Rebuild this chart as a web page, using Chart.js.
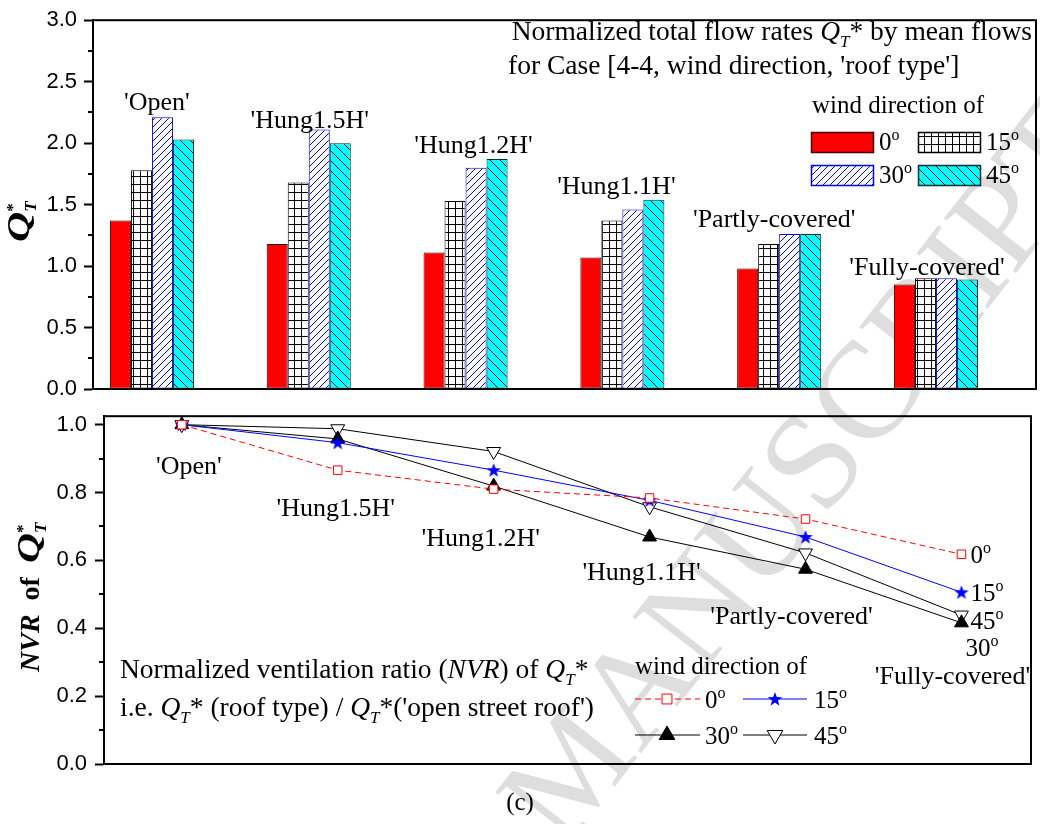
<!DOCTYPE html>
<html>
<head>
<meta charset="utf-8">
<script src="https://cdn.jsdelivr.net/npm/chart.js@4.4.1/dist/chart.umd.min.js"></script>
<style>
  html, body { margin: 0; padding: 0; background: #fff; }
  #wrap { position: relative; width: 1040px; height: 824px; overflow: hidden; }
  canvas { position: absolute; left: 0; }
  #bg { top: 0; }
  #top-chart { top: 0; }
  #bottom-chart { top: 395px; }
  #caption { position: absolute; left: 0; top: 788px; width: 1040px; text-align: center;
             font: 25px 'Liberation Serif', 'Times New Roman', serif; line-height: 28px; }
</style>
</head>
<body>
<div id="wrap">
  <canvas id="bg" width="1040" height="824"></canvas>
  <canvas id="top-chart" width="1040" height="420"></canvas>
  <canvas id="bottom-chart" width="1040" height="400"></canvas>
  <div id="caption">(c)</div>
</div>
<script>
// Datos
const roofTypes = ["'Open'", "'Hung1.5H'", "'Hung1.2H'", "'Hung1.1H'", "'Partly-covered'", "'Fully-covered'"];
const windDirs = ['0', '15', '30', '45'];

// Q_T* (gráfico de barras)
const qt0  = [1.37, 1.18, 1.11, 1.07, 0.98, 0.85];
const qt15 = [1.78, 1.68, 1.53, 1.37, 1.18, 0.90];
const qt30 = [2.21, 2.11, 1.80, 1.46, 1.26, 0.90];
const qt45 = [2.03, 2.00, 1.87, 1.54, 1.26, 0.89];

// NVR de Q_T* (gráfico de líneas)
const nvr0  = [1.00, 0.866, 0.810, 0.784, 0.722, 0.618];
const nvr15 = [1.00, 0.947, 0.866, 0.777, 0.669, 0.506];
const nvr30 = [1.00, 0.958, 0.819, 0.669, 0.574, 0.416];
const nvr45 = [1.00, 0.988, 0.921, 0.758, 0.622, 0.439];

// Marcas del eje Y
const qtTicks = [0, 0.5, 1.0, 1.5, 2.0, 2.5, 3.0];
const nvrTicks = [0, 0.2, 0.4, 0.6, 0.8, 1.0];

const SERIF = "'Liberation Serif', 'Times New Roman', serif";
const SANS = "'Liberation Sans', Arial, sans-serif";
const TXT = 25;      // leyendas y grados
const CAT = 26;      // nombres de techo
const NOTE = 27.5;   // textos explicativos
const BOTTOM_TOP = 395; // posición del segundo lienzo

// Ajustes de posición de las etiquetas (px)
const topLabelNudge = [[5, -7], [1, -2], [8, -6], [-6, -6], [-5, -7], [-9, -3]];
const bottomLabelNudge = [[7, 49], [-2, 46], [-13, 57], [-8, 43], [-14, 55], [-9, 61]];
const endLabelNudge = [[9, 9], [9, 9], [4, 33], [9, 14]];

// Texto enriquecido: cursiva, negrita, subíndice, superíndice
function fontStr(p, size) {
  return (p.i ? 'italic ' : '') + (p.b ? 'bold ' : '') + size + 'px ' + SERIF;
}
function drawRich(ctx, parts, x, y, size, align) {
  const segs = [];
  let cx = 0, prevStart = 0;
  for (const p of parts) {
    const base = size * (p.k || 1);
    const s = (p.sub || p.sup) ? Math.round(size * 0.62) : base;
    const st = p.st || 1;
    ctx.font = fontStr(p, s);
    const w = ctx.measureText(p.t).width * st;
    const sx = p.stack ? prevStart : cx;
    segs.push({ p, s, sx, st });
    cx = p.stack ? Math.max(cx, sx + w) : sx + w;
    prevStart = sx;
  }
  const ox = align === 'right' ? x - cx : align === 'center' ? x - cx / 2 : x;
  ctx.textAlign = 'left';
  ctx.textBaseline = 'alphabetic';
  for (const sg of segs) {
    ctx.font = fontStr(sg.p, sg.s);
    const dy = sg.p.sub ? size * 0.24 : sg.p.sup ? -size * 0.4 : 0;
    if (sg.st !== 1) {
      ctx.save();
      ctx.translate(ox + sg.sx, y + dy);
      ctx.scale(sg.st, 1);
      ctx.fillText(sg.p.t, 0, 0);
      ctx.restore();
    } else {
      ctx.fillText(sg.p.t, ox + sg.sx, y + dy);
    }
  }
}
const deg = (v) => [{ t: v }, { t: 'o', sup: true }];

// Patrones de relleno
function makePattern(ctx, w, h, bg, color, lines) {
  const tile = document.createElement('canvas');
  tile.width = w; tile.height = h;
  const t = tile.getContext('2d');
  t.fillStyle = bg;
  t.fillRect(0, 0, w, h);
  t.strokeStyle = color;
  t.lineWidth = 1;
  lines.forEach(l => { t.beginPath(); t.moveTo(l[0], l[1]); t.lineTo(l[2], l[3]); t.stroke(); });
  return ctx.createPattern(tile, 'repeat');
}

const topCtx = document.getElementById('top-chart').getContext('2d');
const gridPattern = makePattern(topCtx, 7, 8, '#ffffff', '#000000', [[0.5, 0, 0.5, 8], [0, 0.5, 7, 0.5]]);
const bluePattern = makePattern(topCtx, 7, 7, '#ffffff', '#0000ff', [[0, 7, 7, 0], [-7, 7, 0, 0], [7, 7, 14, 0]]);
const cyanPattern = makePattern(topCtx, 10, 10, '#00ffff', '#000000', [[0, 0, 10, 10], [-10, 0, 0, 10], [10, 0, 20, 10]]);

const barFills = ['#ff0000', gridPattern, bluePattern, cyanPattern];
const barEdges = ['#4a0000', '#000000', '#0000ff', '#003030'];

// Estrella rellena para la serie de 15°
const starImg = document.createElement('canvas');
starImg.width = 16; starImg.height = 16;
(function () {
  const s = starImg.getContext('2d');
  s.fillStyle = '#0000ff';
  s.beginPath();
  for (let k = 0; k < 10; k++) {
    const r = k % 2 === 0 ? 7.6 : 3.1;
    const a = -Math.PI / 2 + k * Math.PI / 5;
    s.lineTo(8 + r * Math.cos(a), 8.5 + r * Math.sin(a));
  }
  s.closePath();
  s.fill();
})();

// Marca de agua
(function () {
  const ctx = document.getElementById('bg').getContext('2d');
  ctx.save();
  ctx.translate(1112, 150);
  ctx.rotate(-52 * Math.PI / 180);
  ctx.font = '138px ' + SERIF;
  ctx.fillStyle = '#dedede';
  ctx.textAlign = 'right';
  ctx.fillText('ACCEPTED MANUSCRIPT', 0, 0);
  ctx.restore();
})();

function drawFrame(ctx, a) {
  ctx.strokeStyle = '#000';
  ctx.lineWidth = 2;
  ctx.strokeRect(a.left, a.top, a.right - a.left, a.bottom - a.top);
}
function drawMinorTicks(ctx, a, yScale, values) {
  ctx.strokeStyle = '#000';
  ctx.lineWidth = 2;
  values.forEach(v => {
    const py = Math.round(yScale.getPixelForValue(v));
    ctx.beginPath();
    ctx.moveTo(a.left - 5, py);
    ctx.lineTo(a.left, py);
    ctx.stroke();
  });
}

const qtSeries = [qt0, qt15, qt30, qt45];
const nvrSeries = [nvr0, nvr15, nvr30, nvr45];

// Decoración del gráfico de barras
const topDecor = {
  id: 'topDecor',
  afterDraw(chart) {
    const { ctx, chartArea: a, scales: { x, y } } = chart;
    ctx.save();
    drawFrame(ctx, a);
    const minor = [];
    for (let k = 0; k < qtTicks.length - 1; k++) minor.push((qtTicks[k] + qtTicks[k + 1]) / 2);
    drawMinorTicks(ctx, a, y, minor);

    ctx.fillStyle = '#000';
    roofTypes.forEach((name, i) => {
      const top = Math.max(...qtSeries.map(s => s[i]));
      const [dx, dy] = topLabelNudge[i];
      drawRich(ctx, [{ t: name }], x.getPixelForValue(i) + dx, y.getPixelForValue(top) + dy, CAT, 'center');
    });

    // Título dentro del gráfico
    drawRich(ctx, [{ t: 'Normalized total flow rates ' }, { t: 'Q', i: true }, { t: 'T', i: true, sub: true },
      { t: '* by mean flows' }], a.right - 4, 40, NOTE, 'right');
    drawRich(ctx, [{ t: "for Case [4-4, wind direction, 'roof type']" }], 508, 74, NOTE, 'left');

    // Leyenda
    drawRich(ctx, [{ t: 'wind direction of' }], 812, 113, TXT, 'left');
    const cols = [811, 918], rows = [132, 165];
    windDirs.forEach((d, k) => {
      const bx = cols[k % 2], by = rows[Math.floor(k / 2)];
      ctx.fillStyle = barFills[k];
      ctx.fillRect(bx, by, 62, 20);
      ctx.strokeStyle = barEdges[k];
      ctx.lineWidth = 1.5;
      ctx.strokeRect(bx + 0.5, by + 0.5, 62, 20);
      ctx.fillStyle = '#000';
      drawRich(ctx, deg(d), bx + 68, by + 18, TXT, 'left');
    });

    // Título del eje Y
    ctx.translate(29, 242);
    ctx.rotate(-Math.PI / 2);
    drawRich(ctx, [{ t: 'Q', i: true, b: true, k: 1.15, st: 1.3 }, { t: 'T', i: true, b: true, sub: true },
      { t: '*', b: true, sup: true, stack: true }], 0, 0, 28, 'left');
    ctx.restore();
  }
};

// Decoración del gráfico de líneas
const pointStyles = [
  { pointStyle: 'rect', radius: 6, rotation: 0, fill: '#ffffff', stroke: '#ff0000', dash: [6, 4] },
  { pointStyle: starImg, radius: 8, rotation: 0, fill: '#0000ff', stroke: '#0000ff', dash: [] },
  { pointStyle: 'triangle', radius: 8, rotation: 0, fill: '#000000', stroke: '#000000', dash: [] },
  { pointStyle: 'triangle', radius: 8, rotation: 180, fill: '#ffffff', stroke: '#000000', dash: [] }
];

const bottomDecor = {
  id: 'bottomDecor',
  afterDraw(chart) {
    const { ctx, chartArea: a, scales: { x, y } } = chart;
    ctx.save();
    drawFrame(ctx, a);
    const minor = [];
    for (let k = 0; k < nvrTicks.length - 1; k++) minor.push((nvrTicks[k] + nvrTicks[k + 1]) / 2);
    drawMinorTicks(ctx, a, y, minor);

    ctx.fillStyle = '#000';
    roofTypes.forEach((name, i) => {
      const low = Math.min(...nvrSeries.map(s => s[i]));
      const [dx, dy] = bottomLabelNudge[i];
      drawRich(ctx, [{ t: name }], x.getPixelForValue(i) + dx, y.getPixelForValue(low) + dy, CAT, 'center');
    });

    // Etiquetas al final de cada serie
    nvrSeries.forEach((s, k) => {
      const last = s.length - 1;
      const [dx, dy] = endLabelNudge[k];
      drawRich(ctx, deg(windDirs[k]), x.getPixelForValue(last) + dx, y.getPixelForValue(s[last]) + dy, TXT, 'left');
    });

    // Texto explicativo
    const off = BOTTOM_TOP;
    drawRich(ctx, [{ t: 'Normalized ventilation ratio (' }, { t: 'NVR', i: true }, { t: ') of ' },
      { t: 'Q', i: true }, { t: 'T', i: true, sub: true }, { t: '*' }], 120, 678 - off, NOTE, 'left');
    drawRich(ctx, [{ t: 'i.e. ' }, { t: 'Q', i: true }, { t: 'T', i: true, sub: true }, { t: '* (roof type) / ' },
      { t: 'Q', i: true }, { t: 'T', i: true, sub: true }, { t: "*('open street roof')" }], 120, 716 - off, NOTE, 'left');

    // Leyenda
    drawRich(ctx, [{ t: 'wind direction of' }], 635, 674 - off, TXT, 'left');
    const cols = [[635, 700, 667, 705], [743, 807, 775, 814]];
    const rows = [699 - off, 735 - off];
    windDirs.forEach((d, k) => {
      const c = cols[k % 2], cy = rows[Math.floor(k / 2)];
      const ps = pointStyles[k];
      ctx.strokeStyle = ps.stroke;
      ctx.lineWidth = 1;
      ctx.setLineDash(ps.dash);
      ctx.beginPath();
      ctx.moveTo(c[0], cy);
      ctx.lineTo(c[1], cy);
      ctx.stroke();
      ctx.setLineDash([]);
      ctx.fillStyle = ps.fill;
      ctx.strokeStyle = ps.stroke;
      ctx.lineWidth = 1;
      Chart.helpers.drawPoint(ctx, { pointStyle: ps.pointStyle, radius: ps.radius + 1, rotation: ps.rotation, borderWidth: 1 }, c[2], cy);
      ctx.fillStyle = '#000';
      drawRich(ctx, deg(d), c[3], cy + 9, TXT, 'left');
    });

    // Título del eje Y
    ctx.translate(39, 672 - off);
    ctx.rotate(-Math.PI / 2);
    drawRich(ctx, [{ t: 'NVR', i: true, b: true }, { t: '\u2002of\u2002', b: true },
      { t: 'Q', i: true, b: true, k: 1.1, st: 1.35 },
      { t: 'T', i: true, b: true, sub: true }, { t: '*', b: true, sup: true, stack: true }], 0, 0, 28, 'left');
    ctx.restore();
  }
};

function yAxis(ticks, width, padding) {
  return {
    afterBuildTicks: s => { s.ticks = ticks.map(v => ({ value: v })); },
    afterFit: s => { s.width = width; },
    ticks: { color: '#000', font: { family: SANS, size: 22 }, padding: padding, callback: v => Number(v).toFixed(1) },
    grid: { drawOnChartArea: false, drawTicks: true, tickLength: 9, tickWidth: 2, tickColor: '#000' },
    border: { display: true, width: 2, color: '#000' }
  };
}
// Eje X oculto con una marca por tipo de techo
const xAxis = (min, max) => ({
  type: 'linear', display: false, offset: false, min, max,
  afterBuildTicks: s => { s.ticks = roofTypes.map((_, i) => ({ value: i })); }
});

// Gráfico de barras: Q_T*
new Chart(topCtx, {
  type: 'bar',
  data: {
    datasets: qtSeries.map((s, k) => ({
      label: windDirs[k],
      data: s.map((v, i) => ({ x: i, y: v })),
      backgroundColor: barFills[k],
      borderColor: barEdges[k],
      borderWidth: 1,
      borderSkipped: false,
      barPercentage: 1,
      categoryPercentage: 0.536
    }))
  },
  options: {
    responsive: false,
    animation: false,
    layout: { padding: { left: 0, right: 4, top: 14, bottom: 31 } },
    plugins: { legend: { display: false }, tooltip: { enabled: false } },
    scales: {
      x: xAxis(-0.376, 5.638),
      y: Object.assign({ min: 0, max: 3 }, yAxis(qtTicks, 93, 7))
    }
  },
  plugins: [topDecor]
});

// Gráfico de líneas: NVR de Q_T*
new Chart(document.getElementById('bottom-chart'), {
  type: 'line',
  data: {
    datasets: nvrSeries.map((s, k) => {
      const ps = pointStyles[k];
      return {
        label: windDirs[k],
        data: s.map((v, i) => ({ x: i, y: v })),
        borderColor: ps.stroke,
        borderWidth: 1,
        borderDash: ps.dash,
        pointStyle: ps.pointStyle,
        pointRadius: ps.radius,
        pointRotation: ps.rotation,
        pointBackgroundColor: ps.fill,
        pointBorderColor: ps.stroke,
        pointBorderWidth: 1,
        tension: 0
      };
    })
  },
  options: {
    responsive: false,
    animation: false,
    layout: { padding: { left: 0, right: 2, top: 21, bottom: 31 } },
    plugins: { legend: { display: false }, tooltip: { enabled: false } },
    scales: {
      x: xAxis(-0.499, 5.446),
      y: Object.assign({ min: 0, max: 1.025 }, yAxis(nvrTicks, 104, 8))
    }
  },
  plugins: [bottomDecor]
});
</script>
</body>
</html>
